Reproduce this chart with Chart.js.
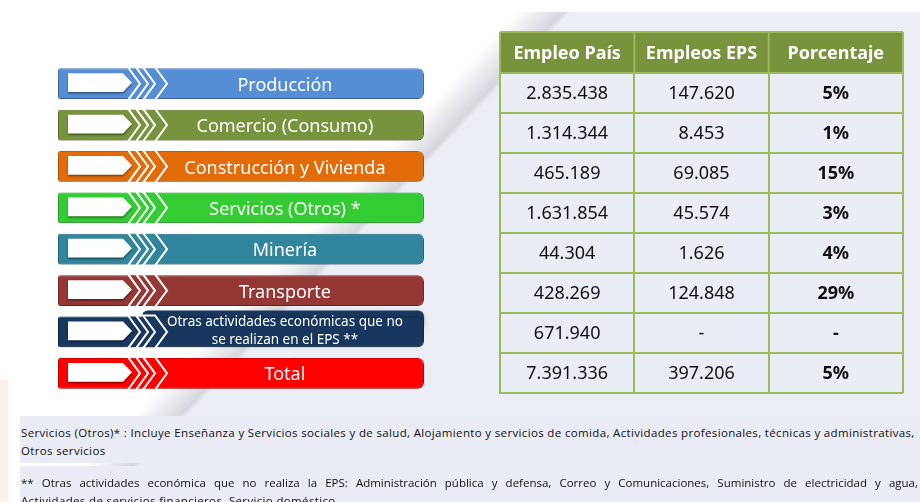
<!DOCTYPE html>
<html>
<head>
<meta charset="utf-8">
<script src="https://cdn.jsdelivr.net/npm/chart.js@4.4.1/dist/chart.umd.min.js"></script>
<style>
html, body { margin: 0; padding: 0; }
body { width: 920px; height: 502px; position: relative; overflow: hidden; background: #fff; font-family: "Noto Sans", sans-serif; }
#bg { position: absolute; left: 0; top: 12px; width: 920px; height: 490px;
  background: linear-gradient(133.5deg, #fff 0%, #fff 37.3%, #d6d7de 40.7%, #eceef6 41.2%, #eceef6 100%); }
#strip { position: absolute; left: 0; top: 380px; width: 8px; height: 122px; background: #fbf1ea; }
canvas { position: absolute; top: 0; }
#labels { left: 0; }
#tabla { left: 480px; }
.nota { position: absolute; left: 20px; width: 900px; background: #e9ecf5; font-family: "Open Sans", sans-serif; font-size: 11.5px; letter-spacing: 0.35px; color: #111; line-height: 18px; overflow: hidden; }
.nota span { display: block; white-space: nowrap; padding-left: 1px; }
#nota1 { top: 416px; height: 47px; padding-top: 8px; box-sizing: border-box; }
#nota2 { top: 466px; height: 36px; padding-top: 8px; box-sizing: border-box; }
#nota2 .j { white-space: normal; text-align: justify; text-align-last: justify; width: 897px; letter-spacing: 0; }
</style>
</head>
<body>
<div id="bg"></div>
<div id="strip"></div>
<canvas id="labels" width="460" height="420"></canvas>
<canvas id="tabla" width="440" height="420"></canvas>
<div class="nota" id="nota1">
  <span>Servicios (Otros)* : Incluye Enseñanza y Servicios sociales y de salud, Alojamiento y servicios de comida, Actividades profesionales, técnicas y administrativas,</span>
  <span>Otros servicios</span>
</div>
<div class="nota" id="nota2">
  <span class="j">** Otras actividades económica que no realiza la EPS: Administración pública y defensa, Correo y Comunicaciones, Suministro de electricidad y agua,</span>
  <span>Actividades de servicios financieros, Servicio doméstico</span>
</div>
<script>
const sectores = ['Producción', 'Comercio (Consumo)', 'Construcción y Vivienda', 'Servicios (Otros) *', 'Minería', 'Transporte',
  ['Otras actividades económicas que no', 'se realizan en el EPS **'], 'Total'];
const columnas = ['Empleo País', 'Empleos EPS', 'Porcentaje'];
const empleoPais = [2835438, 1314344, 465189, 1631854, 44304, 428269, 671940, 7391336];
const empleosEPS = [147620, 8453, 69085, 45574, 1626, 124848, null, 397206];
const porcentaje = [5, 1, 15, 3, 4, 29, null, 5];
const barra = [1, 1, 1, 1, 1, 1, 1, 1];

const colores = ['#558ed5', '#77933c', '#e36c09', '#33cc33', '#31859c', '#953735', '#17375e', '#ff0000'];
const bordes = ['#4a7ebf', '#677f33', '#c85f08', '#2db32d', '#2a7488', '#80302e', '#122c4c', '#e00000'];

function miles(n) {
  if (n === null) return '-';
  return String(n).replace(/\B(?=(\d{3})+(?!\d))/g, '.');
}

function chevron(ctx, x0, top, bot, w, d) {
  const mid = (top + bot) / 2;
  ctx.beginPath();
  ctx.moveTo(x0, top);
  ctx.lineTo(x0 + w, top);
  ctx.lineTo(x0 + w + d, mid);
  ctx.lineTo(x0 + w, bot);
  ctx.lineTo(x0, bot);
  ctx.lineTo(x0 + d, mid);
  ctx.closePath();
  ctx.fill();
  ctx.stroke();
}

// dibuja flechas y textos dentro de cada barra
const flechas = {
  id: 'flechas',
  beforeDatasetsDraw(chart) {
    const ctx = chart.ctx;
    const meta = chart.getDatasetMeta(0);
    ctx.save();
    ctx.shadowColor = 'rgba(0,0,0,0.35)';
    ctx.shadowBlur = 4;
    ctx.shadowOffsetY = 2;
    // pestaña superior de la barra de dos líneas
    meta.data.forEach((bar, i) => {
      if (!Array.isArray(sectores[i])) return;
      const p = bar.getProps(['x', 'y', 'base', 'height'], true);
      const top = p.y - p.height / 2;
      ctx.fillStyle = colores[i];
      ctx.beginPath();
      ctx.roundRect(p.base + 84, top - 6, p.x - p.base - 84, 14, [6, 6, 0, 0]);
      ctx.fill();
    });
  },
  afterDatasetsDraw(chart) {
    const ctx = chart.ctx;
    ctx.restore();
    const meta = chart.getDatasetMeta(0);
    meta.data.forEach((bar, i) => {
      const p = bar.getProps(['x', 'y', 'base', 'height'], true);
      const top = p.y - p.height / 2, bot = p.y + p.height / 2;
      const b = p.base;
      ctx.save();
      ctx.strokeStyle = '#fff';
      ctx.lineWidth = 2;
      ctx.lineJoin = 'miter';
      ctx.fillStyle = colores[i];
      chevron(ctx, b + 85, top - 1, bot + 1, 12, 12);
      chevron(ctx, b + 70, top - 1, bot + 1, 8, 12);
      // bloque blanco
      ctx.shadowColor = 'rgba(0,0,0,0.45)';
      ctx.shadowBlur = 2;
      ctx.shadowOffsetY = 1.5;
      ctx.fillStyle = '#fff';
      ctx.beginPath();
      ctx.moveTo(b + 10, top + 5);
      ctx.lineTo(b + 65, top + 5);
      ctx.lineTo(b + 74, (top + bot - 2) / 2);
      ctx.lineTo(b + 65, bot - 7);
      ctx.lineTo(b + 10, bot - 7);
      ctx.closePath();
      ctx.fill();
      ctx.restore();

      ctx.save();
      ctx.fillStyle = '#fff';
      ctx.textAlign = 'center';
      ctx.textBaseline = 'middle';
      const cx = b + (p.x - b) * 0.62;
      const lab = sectores[i];
      if (Array.isArray(lab)) {
        ctx.font = '13.5px "Noto Sans"';
        ctx.fillText(lab[0], cx, p.y - 10);
        ctx.fillText(lab[1], cx, p.y + 8);
      } else {
        ctx.font = '18px "Noto Sans"';
        ctx.fillText(lab, cx, p.y + 2);
      }
      ctx.restore();
    });
  }
};

new Chart(document.getElementById('labels'), {
  type: 'bar',
  data: {
    labels: sectores,
    datasets: [{
      data: barra,
      backgroundColor: colores,
      borderColor: bordes,
      borderWidth: 1,
      borderSkipped: false,
      borderRadius: { topLeft: 2, bottomLeft: 2, topRight: 6, bottomRight: 6 },
      categoryPercentage: 1,
      barPercentage: 0.745
    }]
  },
  options: {
    indexAxis: 'y',
    responsive: false,
    animation: false,
    layout: { padding: { left: 58, right: 36, top: 63, bottom: 26 } },
    scales: {
      x: { display: false, min: 0, max: 1 },
      y: { display: false, offset: true }
    },
    plugins: { legend: { display: false }, tooltip: { enabled: false } }
  },
  plugins: [flechas]
});

// tabla: filas en el eje y, columnas en el eje x
const celdas = {
  id: 'celdas',
  beforeDraw(chart) {
    const ctx = chart.ctx;
    const x = chart.scales.x, a = chart.chartArea;
    ctx.save();
    ctx.fillStyle = '#eaedf6';
    ctx.fillRect(a.left, a.top, a.right - a.left, a.bottom - a.top);
    ctx.fillStyle = '#77933c';
    ctx.fillRect(x.left, x.top, x.right - x.left, x.bottom - x.top);
    ctx.restore();
  },
  afterDraw(chart) {
    const ctx = chart.ctx;
    const x = chart.scales.x, y = chart.scales.y;
    const paso = (x.right - x.left) / columnas.length;
    ctx.save();
    ctx.strokeStyle = '#9bbb59';
    ctx.lineWidth = 2;
    ctx.beginPath();
    ctx.moveTo(x.left, x.top); ctx.lineTo(x.right, x.top);
    for (let j = 0; j <= columnas.length; j++) {
      const px = x.getPixelForValue(0) - paso / 2 + j * paso;
      ctx.moveTo(px, x.top); ctx.lineTo(px, x.bottom);
    }
    ctx.stroke();
    ctx.fillStyle = '#111';
    ctx.textAlign = 'center';
    ctx.textBaseline = 'middle';
    sectores.forEach((s, i) => {
      const py = y.getPixelForValue(i) + 1;
      ctx.font = '18px "Noto Sans"';
      ctx.fillText(miles(empleoPais[i]), x.getPixelForValue(0), py);
      ctx.fillText(miles(empleosEPS[i]), x.getPixelForValue(1), py);
      ctx.font = 'bold 18px "Noto Sans"';
      ctx.fillText(porcentaje[i] === null ? '-' : porcentaje[i] + '%', x.getPixelForValue(2), py);
    });
    ctx.restore();
  }
};

new Chart(document.getElementById('tabla'), {
  type: 'bar',
  data: { labels: sectores, datasets: [] },
  options: {
    indexAxis: 'y',
    responsive: false,
    animation: false,
    layout: { padding: { left: 20, right: 17, top: 32, bottom: 27 } },
    scales: {
      x: {
        type: 'category',
        labels: columnas,
        position: 'top',
        offset: true,
        afterFit: (s) => { s.height = 41; },
        grid: { offset: true, color: '#9bbb59', lineWidth: 2, drawTicks: false },
        border: { color: '#9bbb59', width: 2 },
        ticks: { color: '#fff', padding: 8, font: { family: 'Noto Sans', size: 18, weight: 'bold' } }
      },
      y: {
        type: 'category',
        offset: true,
        afterFit: (s) => { s.width = 0; },
        grid: { offset: true, color: '#9bbb59', lineWidth: 2, drawTicks: false },
        border: { color: '#9bbb59', width: 2 },
        ticks: { display: false }
      }
    },
    plugins: { legend: { display: false }, tooltip: { enabled: false } }
  },
  plugins: [celdas]
});
</script>
</body>
</html>
